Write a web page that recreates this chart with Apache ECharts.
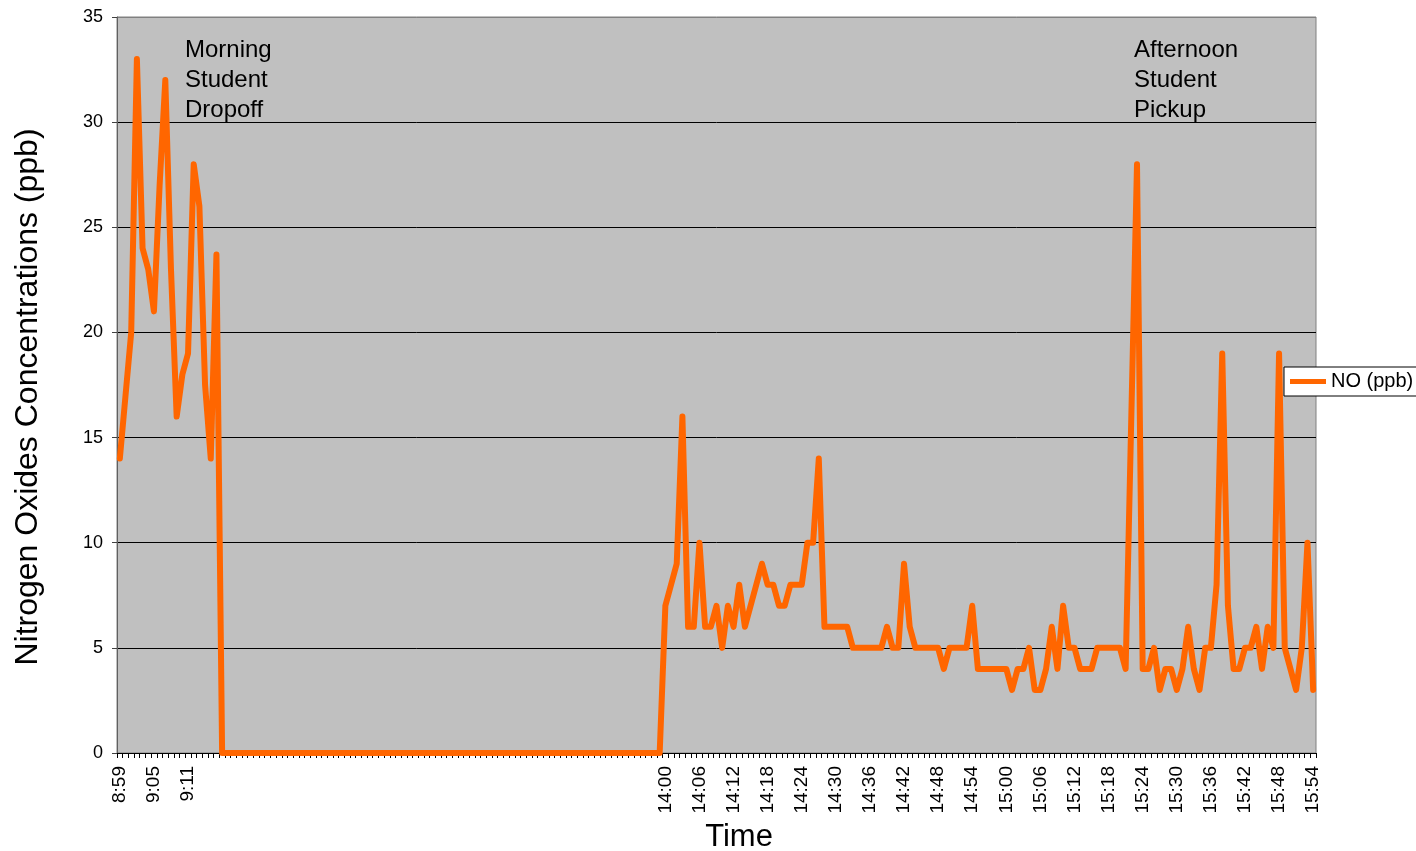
<!DOCTYPE html>
<html>
<head>
<meta charset="utf-8">
<title>Nitrogen Oxides Concentrations</title>
<script src="https://cdn.jsdelivr.net/npm/echarts@6/dist/echarts.min.js"></script>
<style>
  html, body { margin: 0; padding: 0; background: #fff; }
  #chart { width: 1416px; height: 851px; }
</style>
</head>
<body>
<div id="chart"></div>
<script>
// category labels (blank where the logger had no time stamp)
const morningTimes = ['8:59', '9:00', '9:01', '9:02', '9:03', '9:04', '9:05', '9:06', '9:07',
  '9:08', '9:09', '9:10', '9:11', '9:12', '9:13', '9:14', '9:15', '9:16']
const blankTimes = [
  '', '', '', '', '', '', '', '', '', '', '', '', '', '', '', '', '', '', '', '',
  '', '', '', '', '', '', '', '', '', '', '', '', '', '', '', '', '', '', '', '',
  '', '', '', '', '', '', '', '', '', '', '', '', '', '', '', '', '', '', '', '',
  '', '', '', '', '', '', '', '', '', '', '', '', '', '', '', '', '', ''
]
const afternoonTimes = [
  '14:00', '14:01', '14:02', '14:03', '14:04', '14:05', '14:06', '14:07', '14:08', '14:09',
  '14:10', '14:11', '14:12', '14:13', '14:14', '14:15', '14:16', '14:17', '14:18', '14:19',
  '14:20', '14:21', '14:22', '14:23', '14:24', '14:25', '14:26', '14:27', '14:28', '14:29',
  '14:30', '14:31', '14:32', '14:33', '14:34', '14:35', '14:36', '14:37', '14:38', '14:39',
  '14:40', '14:41', '14:42', '14:43', '14:44', '14:45', '14:46', '14:47', '14:48', '14:49',
  '14:50', '14:51', '14:52', '14:53', '14:54', '14:55', '14:56', '14:57', '14:58', '14:59',
  '15:00', '15:01', '15:02', '15:03', '15:04', '15:05', '15:06', '15:07', '15:08', '15:09',
  '15:10', '15:11', '15:12', '15:13', '15:14', '15:15', '15:16', '15:17', '15:18', '15:19',
  '15:20', '15:21', '15:22', '15:23', '15:24', '15:25', '15:26', '15:27', '15:28', '15:29',
  '15:30', '15:31', '15:32', '15:33', '15:34', '15:35', '15:36', '15:37', '15:38', '15:39',
  '15:40', '15:41', '15:42', '15:43', '15:44', '15:45', '15:46', '15:47', '15:48', '15:49',
  '15:50', '15:51', '15:52', '15:53', '15:54'
]

// NO (ppb) readings
const morningNO = [14, 17, 20, 33, 24, 23, 21, 27, 32, 23, 16, 18, 19, 28, 26, 17.5, 14, 23.7]
const blankNO = [
  0, 0, 0, 0, 0, 0, 0, 0, 0, 0, 0, 0, 0, 0, 0, 0, 0, 0, 0, 0,
  0, 0, 0, 0, 0, 0, 0, 0, 0, 0, 0, 0, 0, 0, 0, 0, 0, 0, 0, 0,
  0, 0, 0, 0, 0, 0, 0, 0, 0, 0, 0, 0, 0, 0, 0, 0, 0, 0, 0, 0,
  0, 0, 0, 0, 0, 0, 0, 0, 0, 0, 0, 0, 0, 0, 0, 0, 0, 0
]
const afternoonNO = [
  7, 8, 9, 16, 6, 6, 10, 6, 6, 7,
  5, 7, 6, 8, 6, 7, 8, 9, 8, 8,
  7, 7, 8, 8, 8, 10, 10, 14, 6, 6,
  6, 6, 6, 5, 5, 5, 5, 5, 5, 6,
  5, 5, 9, 6, 5, 5, 5, 5, 5, 4,
  5, 5, 5, 5, 7, 4, 4, 4, 4, 4,
  4, 3, 4, 4, 5, 3, 3, 4, 6, 4,
  7, 5, 5, 4, 4, 4, 5, 5, 5, 5,
  5, 4, 16, 28, 4, 4, 5, 3, 4, 4,
  3, 4, 6, 4, 3, 5, 5, 8, 19, 7,
  4, 4, 5, 5, 6, 4, 6, 5, 19, 5,
  4, 3, 5, 10, 3
]

const yTicks = [0, 5, 10, 15, 20, 25, 30, 35]

const categories = morningTimes.concat(blankTimes, afternoonTimes)
const noValues = morningNO.concat(blankNO, afternoonNO)

const font = "'Liberation Sans', Arial, sans-serif"

const chart = echarts.init(document.getElementById('chart'))
chart.setOption({
  animation: false,
  backgroundColor: '#fff',
  textStyle: { fontFamily: font },
  grid: {
    left: 117,
    right: 100,
    top: 17,
    bottom: 98,
    show: true,
    backgroundColor: '#C0C0C0',
    borderColor: '#808080',
    borderWidth: 1
  },
  legend: {
    orient: 'vertical',
    left: 1284,
    top: 367,
    backgroundColor: '#fff',
    borderColor: '#000',
    borderWidth: 1,
    borderRadius: 0,
    padding: [4, 6, 4, 6],
    icon: 'rect',
    itemWidth: 36,
    itemHeight: 5,
    itemGap: 0,
    textStyle: { color: '#000', fontSize: 20, fontFamily: font, lineHeight: 21 },
    data: ['NO (ppb)']
  },
  xAxis: {
    type: 'category',
    data: categories,
    boundaryGap: true,
    axisLine: { lineStyle: { color: '#000', width: 1 } },
    axisTick: { show: true, interval: 0, length: 5, lineStyle: { color: '#000' } },
    axisLabel: {
      interval: 5,
      rotate: 90,
      margin: 13,
      fontSize: 19,
      color: '#000',
      fontFamily: font
    },
    splitLine: { show: false }
  },
  yAxis: {
    type: 'value',
    min: yTicks[0],
    max: yTicks[yTicks.length - 1],
    interval: 5,
    axisLine: { show: true, lineStyle: { color: '#606060', width: 1 } },
    axisTick: { show: true, length: 5, lineStyle: { color: '#404040' } },
    axisLabel: { margin: 14, fontSize: 18, color: '#000', fontFamily: font },
    splitLine: {
      show: true,
      lineStyle: {
        color: ['#000', '#000', '#000', '#000', '#000', '#000', '#000', '#808080'],
        width: 1
      }
    }
  },
  graphic: [
    {
      type: 'text',
      x: 28,
      y: 397,
      rotation: Math.PI / 2,
      style: {
        text: 'Nitrogen Oxides Concentrations (ppb)',
        font: "32px 'Liberation Sans', Arial, sans-serif",
        fill: '#000',
        align: 'center',
        verticalAlign: 'middle'
      }
    },
    {
      type: 'text',
      x: 739,
      y: 837,
      style: {
        text: 'Time',
        font: "31px 'Liberation Sans', Arial, sans-serif",
        fill: '#000',
        align: 'center',
        verticalAlign: 'middle'
      }
    },
    {
      type: 'text',
      x: 185,
      y: 35,
      style: {
        text: 'Morning\nStudent\nDropoff',
        font: "24px 'Liberation Sans', Arial, sans-serif",
        lineHeight: 30,
        fill: '#000'
      }
    },
    {
      type: 'text',
      x: 1134,
      y: 35,
      style: {
        text: 'Afternoon\nStudent\nPickup',
        font: "24px 'Liberation Sans', Arial, sans-serif",
        lineHeight: 30,
        fill: '#000'
      }
    }
  ],
  series: [{
    name: 'NO (ppb)',
    type: 'line',
    data: noValues,
    color: '#FF6600',
    symbol: 'none',
    lineStyle: { color: '#FF6600', width: 6, cap: 'round', join: 'round' }
  }]
})
</script>
</body>
</html>
